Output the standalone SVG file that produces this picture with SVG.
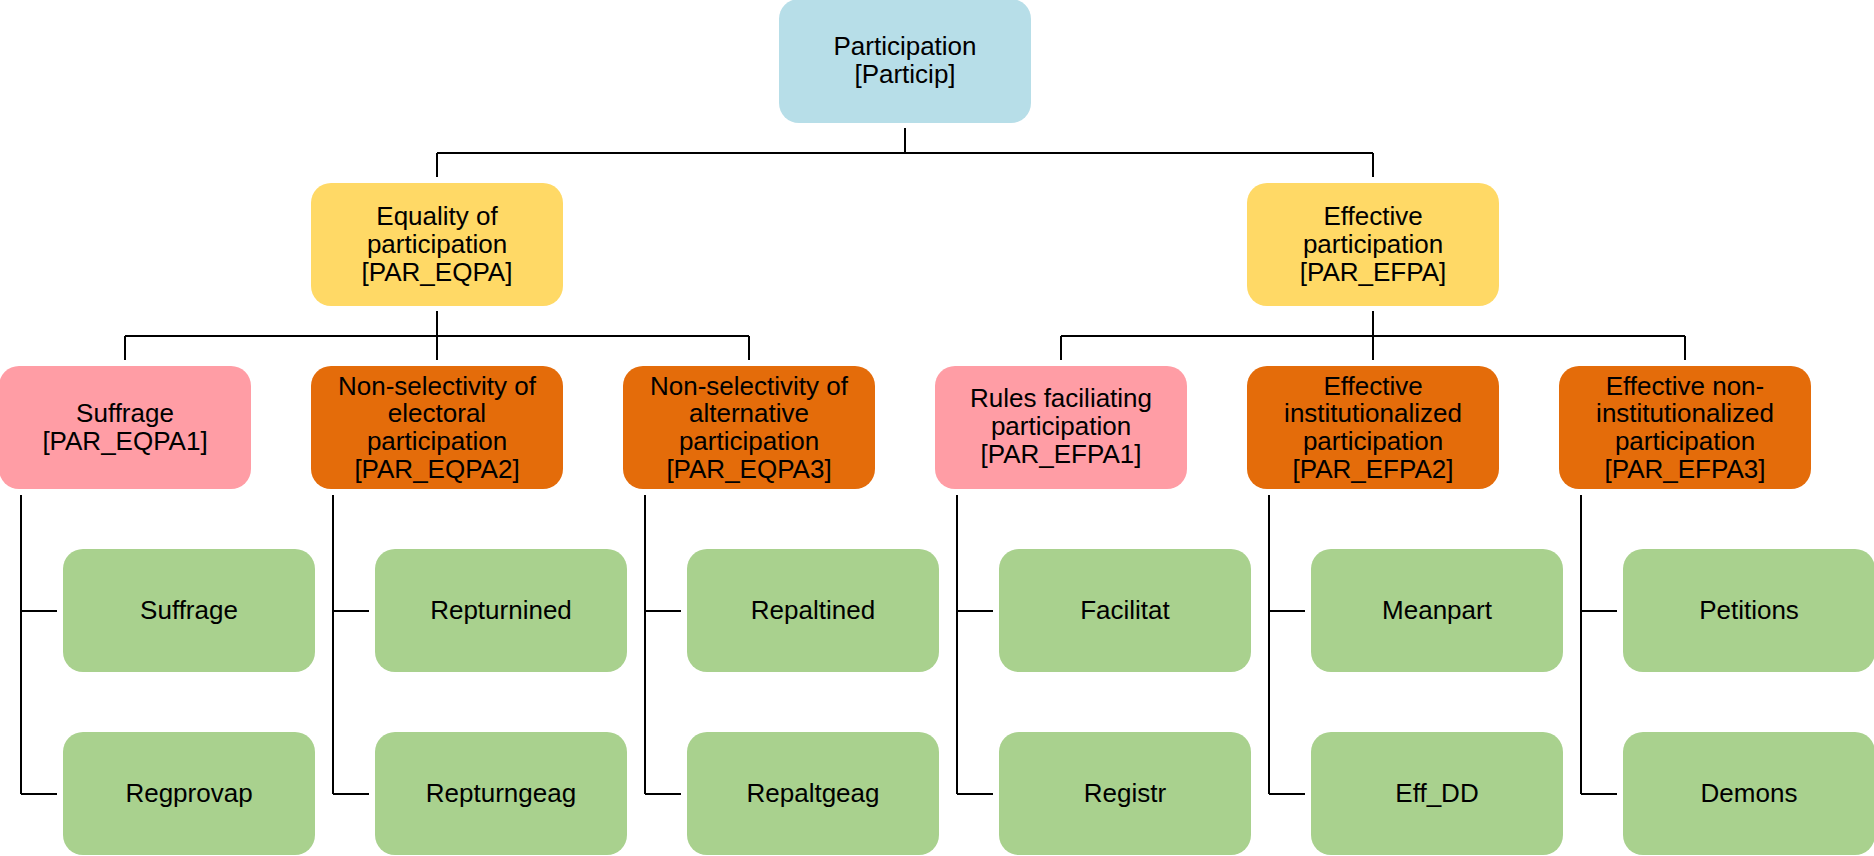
<svg xmlns="http://www.w3.org/2000/svg" width="1874" height="856" viewBox="0 0 1874 856">
  <style>
    .box { stroke: none; }
    .root { fill: #B7DEE8; }
    .dim { fill: #FFD966; }
    .sub1 { fill: #FF9DA5; }
    .sub { fill: #E46C0A; }
    .ind { fill: #A9D18E; }
    text { font-family: "Liberation Sans", Arial, sans-serif; font-size: 26px; fill: #000; text-anchor: middle; }
    .conn path { fill: none; stroke: #000; stroke-width: 2; }
  </style>

  <!-- connectors -->
  <g id="connectors" class="conn">
    <path d="M905 128V153M437 153H1373M437 153V177M1373 153V177"/>
    <path d="M437 311V360M125 336H749M125 336V360M749 336V360"/>
    <path d="M1373 311V360M1061 336H1685M1061 336V360M1685 336V360"/>
    <path d="M21 495V794M21 611H57M21 794H57"/>
    <path d="M333 495V794M333 611H369M333 794H369"/>
    <path d="M645 495V794M645 611H681M645 794H681"/>
    <path d="M957 495V794M957 611H993M957 794H993"/>
    <path d="M1269 495V794M1269 611H1305M1269 794H1305"/>
    <path d="M1581 495V794M1581 611H1617M1581 794H1617"/>
  </g>

  <!-- top level -->
  <g id="particip">
    <rect class="box root" x="779" y="-1" width="252" height="124" rx="20"/>
    <text x="905" y="55">Participation</text>
    <text x="905" y="83">[Particip]</text>
  </g>

  <!-- dimensions -->
  <g id="par_eqpa">
    <rect class="box dim" x="311" y="183" width="252" height="123" rx="20"/>
    <text x="437" y="225">Equality of</text>
    <text x="437" y="253">participation</text>
    <text x="437" y="281">[PAR_EQPA]</text>
  </g>
  <g id="par_efpa">
    <rect class="box dim" x="1247" y="183" width="252" height="123" rx="20"/>
    <text x="1373" y="225">Effective</text>
    <text x="1373" y="253">participation</text>
    <text x="1373" y="281">[PAR_EFPA]</text>
  </g>

  <!-- subcomponents -->
  <g id="par_eqpa1">
    <rect class="box sub1" x="-1" y="366" width="252" height="123" rx="20"/>
    <text x="125" y="422">Suffrage</text>
    <text x="125" y="450">[PAR_EQPA1]</text>
  </g>
  <g id="par_eqpa2">
    <rect class="box sub" x="311" y="366" width="252" height="123" rx="20"/>
    <text x="437" y="395">Non-selectivity of</text>
    <text x="437" y="422">electoral</text>
    <text x="437" y="450">participation</text>
    <text x="437" y="478">[PAR_EQPA2]</text>
  </g>
  <g id="par_eqpa3">
    <rect class="box sub" x="623" y="366" width="252" height="123" rx="20"/>
    <text x="749" y="395">Non-selectivity of</text>
    <text x="749" y="422">alternative</text>
    <text x="749" y="450">participation</text>
    <text x="749" y="478">[PAR_EQPA3]</text>
  </g>
  <g id="par_efpa1">
    <rect class="box sub1" x="935" y="366" width="252" height="123" rx="20"/>
    <text x="1061" y="407">Rules faciliating</text>
    <text x="1061" y="435">participation</text>
    <text x="1061" y="463">[PAR_EFPA1]</text>
  </g>
  <g id="par_efpa2">
    <rect class="box sub" x="1247" y="366" width="252" height="123" rx="20"/>
    <text x="1373" y="395">Effective</text>
    <text x="1373" y="422">institutionalized</text>
    <text x="1373" y="450">participation</text>
    <text x="1373" y="478">[PAR_EFPA2]</text>
  </g>
  <g id="par_efpa3">
    <rect class="box sub" x="1559" y="366" width="252" height="123" rx="20"/>
    <text x="1685" y="395">Effective non-</text>
    <text x="1685" y="422">institutionalized</text>
    <text x="1685" y="450">participation</text>
    <text x="1685" y="478">[PAR_EFPA3]</text>
  </g>

  <!-- indicators -->
  <g id="suffrage"><rect class="box ind" x="63" y="549" width="252" height="123" rx="20"/><text x="189" y="619">Suffrage</text></g>
  <g id="regprovap"><rect class="box ind" x="63" y="732" width="252" height="123" rx="20"/><text x="189" y="802">Regprovap</text></g>
  <g id="repturnined"><rect class="box ind" x="375" y="549" width="252" height="123" rx="20"/><text x="501" y="619">Repturnined</text></g>
  <g id="repturngeag"><rect class="box ind" x="375" y="732" width="252" height="123" rx="20"/><text x="501" y="802">Repturngeag</text></g>
  <g id="repaltined"><rect class="box ind" x="687" y="549" width="252" height="123" rx="20"/><text x="813" y="619">Repaltined</text></g>
  <g id="repaltgeag"><rect class="box ind" x="687" y="732" width="252" height="123" rx="20"/><text x="813" y="802">Repaltgeag</text></g>
  <g id="facilitat"><rect class="box ind" x="999" y="549" width="252" height="123" rx="20"/><text x="1125" y="619">Facilitat</text></g>
  <g id="registr"><rect class="box ind" x="999" y="732" width="252" height="123" rx="20"/><text x="1125" y="802">Registr</text></g>
  <g id="meanpart"><rect class="box ind" x="1311" y="549" width="252" height="123" rx="20"/><text x="1437" y="619">Meanpart</text></g>
  <g id="eff_dd"><rect class="box ind" x="1311" y="732" width="252" height="123" rx="20"/><text x="1437" y="802">Eff_DD</text></g>
  <g id="petitions"><rect class="box ind" x="1623" y="549" width="252" height="123" rx="20"/><text x="1749" y="619">Petitions</text></g>
  <g id="demons"><rect class="box ind" x="1623" y="732" width="252" height="123" rx="20"/><text x="1749" y="802">Demons</text></g>
</svg>
